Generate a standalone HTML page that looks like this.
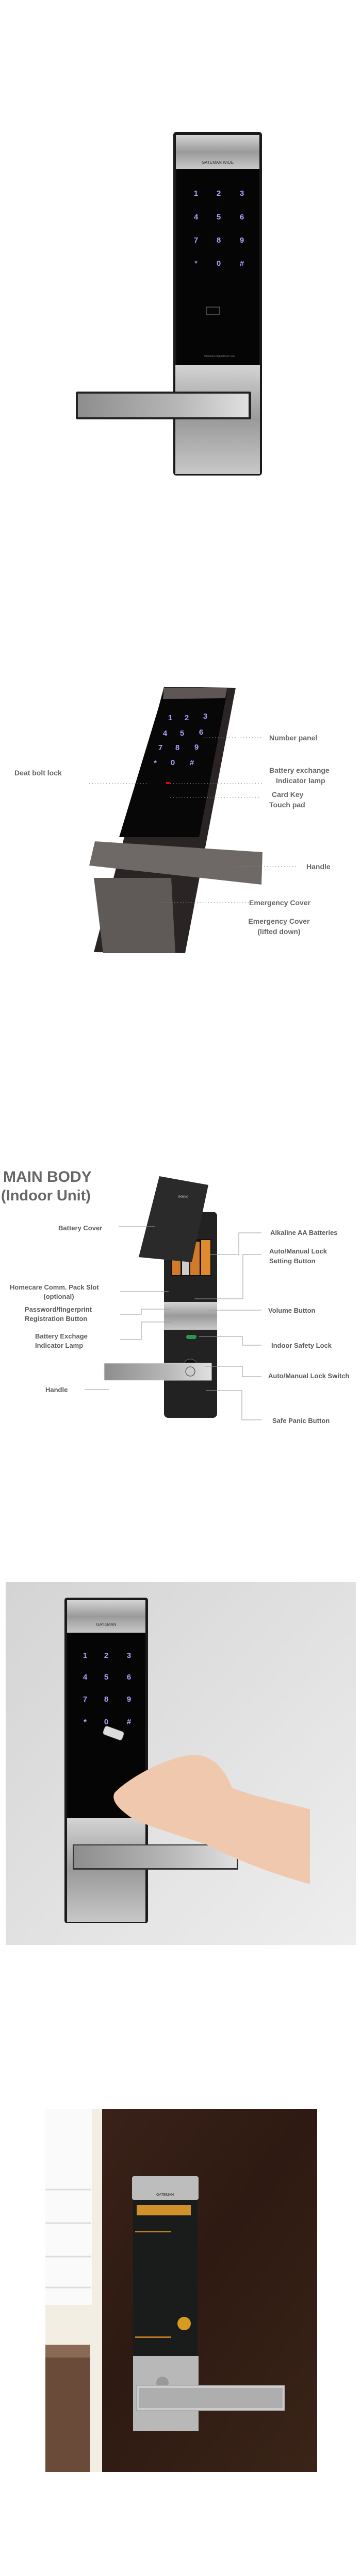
<!DOCTYPE html>
<html><head><meta charset="utf-8"><style>
html,body{margin:0;padding:0;background:#fff;width:700px;height:5029px;overflow:hidden;}
svg{display:block;}
text{font-family:"Liberation Sans","Noto Sans CJK KR",sans-serif;}
.l{font-size:14px;font-weight:bold;fill:#666;}
.m{font-size:13px;font-weight:bold;fill:#5a5a5a;}
.k{font-size:15px;font-weight:bold;fill:#a9a6ff;}
</style></head><body>
<svg width="700" height="5029" viewBox="0 0 700 5029" xmlns="http://www.w3.org/2000/svg">
<defs>
<linearGradient id="sil" x1="0" y1="0" x2="0" y2="1"><stop offset="0" stop-color="#d4d4d4"/><stop offset="0.5" stop-color="#9a9a9a"/><stop offset="1" stop-color="#c8c8c8"/></linearGradient>
<linearGradient id="silh" x1="0" y1="0" x2="1" y2="0"><stop offset="0" stop-color="#8d8d8d"/><stop offset="0.6" stop-color="#b8b8b8"/><stop offset="1" stop-color="#e0e0e0"/></linearGradient>
<linearGradient id="gbg" x1="0" y1="0" x2="1" y2="1"><stop offset="0" stop-color="#d4d4d4"/><stop offset="1" stop-color="#eeeeee"/></linearGradient>
<linearGradient id="door" x1="0" y1="0" x2="1" y2="1"><stop offset="0" stop-color="#3c241a"/><stop offset="0.5" stop-color="#2e1a12"/><stop offset="1" stop-color="#3a2418"/></linearGradient>
</defs>

<!-- Section 1 -->
<rect x="336" y="256" width="172" height="667" rx="6" fill="#1a1a1a"/>
<rect x="341" y="262" width="162" height="66" fill="url(#sil)"/>
<text x="422" y="318" font-size="8" text-anchor="middle" fill="#333">GATEMAN WIDE</text>
<rect x="342" y="328" width="161" height="380" fill="#050505"/>
<g class="k" text-anchor="middle">
<text x="380" y="380">1</text><text x="424" y="380">2</text><text x="469" y="380">3</text>
<text x="380" y="426">4</text><text x="424" y="426">5</text><text x="469" y="426">6</text>
<text x="380" y="471">7</text><text x="424" y="471">8</text><text x="469" y="471">9</text>
<text x="380" y="516">*</text><text x="424" y="516">0</text><text x="469" y="516">#</text>
</g>
<rect x="400" y="596" width="26" height="14" fill="none" stroke="#888" stroke-width="1"/>
<text x="426" y="693" font-size="5" text-anchor="middle" fill="#888">Premium Digital Door Lock</text>
<rect x="340" y="708" width="164" height="212" fill="url(#sil)"/>
<rect x="147" y="760" width="340" height="54" rx="3" fill="#222"/>
<rect x="151" y="764" width="331" height="46" fill="url(#silh)"/>

<!-- Section 2 -->
<polygon points="318,1333 457,1335 359,1850 182,1848" fill="#2a2424"/>
<polygon points="316,1345 440,1345 386,1625 231,1625" fill="#070707"/>
<polygon points="318,1335 440,1335 437,1355 316,1357" fill="#5d5655"/>
<g class="k" font-size="13" text-anchor="middle">
<text x="330" y="1398">1</text><text x="362" y="1398">2</text><text x="398" y="1395">3</text>
<text x="320" y="1428">4</text><text x="353" y="1428">5</text><text x="390" y="1426">6</text>
<text x="311" y="1456">7</text><text x="344" y="1456">8</text><text x="381" y="1455">9</text>
<text x="301" y="1486">*</text><text x="335" y="1485">0</text><text x="372" y="1485">#</text>
</g>
<rect x="322" y="1518" width="7" height="4" fill="#d01010"/>
<polygon points="173,1680 507,1717 509,1654 184,1633" fill="#6e6866"/>
<polygon points="182,1704 332,1704 340,1850 200,1850" fill="#5f5958"/>
<g stroke="#888" stroke-width="1.2" stroke-dasharray="1.5,4" fill="none">
<line x1="395" y1="1432" x2="509" y2="1432"/>
<line x1="173" y1="1521" x2="287" y2="1521"/>
<line x1="330" y1="1521" x2="509" y2="1521"/>
<line x1="330" y1="1548" x2="506" y2="1548"/>
<line x1="457" y1="1682" x2="578" y2="1682"/>
<line x1="316" y1="1752" x2="483" y2="1752"/>
</g>
<g class="l">
<text x="522" y="1437">Number panel</text>
<text x="28" y="1505">Deat bolt lock</text>
<text x="522" y="1500">Battery exchange</text>
<text x="535" y="1520">Indicator lamp</text>
<text x="527" y="1547">Card Key</text>
<text x="522" y="1567">Touch pad</text>
<text x="594" y="1687">Handle</text>
<text x="483" y="1757">Emergency Cover</text>
<text x="541" y="1793" text-anchor="middle">Emergency Cover</text>
<text x="541" y="1813" text-anchor="middle">(lifted down)</text>
</g>

<!-- Section 3 -->
<text x="6" y="2294" font-size="30" font-weight="bold" fill="#666">MAIN BODY</text>
<text x="2" y="2330" font-size="29" font-weight="bold" fill="#666">(Indoor Unit)</text>
<rect x="318" y="2352" width="103" height="400" rx="8" fill="#222"/>
<rect x="332" y="2405" width="78" height="72" fill="#111"/>
<rect x="334" y="2420" width="16" height="55" fill="#d07a2a"/>
<rect x="353" y="2430" width="14" height="45" fill="#ccc"/>
<rect x="369" y="2410" width="18" height="65" fill="#d07a2a"/>
<rect x="390" y="2407" width="18" height="68" fill="#e08a30"/>
<polygon points="269,2440 309,2283 404,2300 372,2450" fill="#2a2a2a"/>
<text x="345" y="2325" font-size="8" fill="#aaa">iRevo</text>
<rect x="318" y="2527" width="103" height="54" fill="url(#sil)"/>
<rect x="361" y="2591" width="20" height="8" rx="4" fill="#2a9a4a"/>
<circle cx="369" cy="2652" r="14" fill="#111" stroke="#666"/>
<rect x="202" y="2646" width="208" height="33" fill="url(#silh)" stroke="#ddd"/>
<circle cx="369" cy="2662" r="9" fill="#ccc" stroke="#333"/>
<g stroke="#999" stroke-width="1" fill="none">
<line x1="230" y1="2381" x2="300" y2="2381"/>
<line x1="232" y1="2507" x2="327" y2="2507"/>
<polyline points="232,2551 274,2551 274,2541 332,2541"/>
<polyline points="232,2600 274,2600 274,2566 332,2566"/>
<line x1="164" y1="2697" x2="211" y2="2697"/>
<polyline points="406,2435 463,2435 463,2393 507,2393"/>
<polyline points="377,2521 471,2521 471,2435 507,2435"/>
<line x1="404" y1="2543" x2="507" y2="2543"/>
<polyline points="386,2594 470,2594 470,2611 507,2611"/>
<polyline points="398,2652 470,2652 470,2672 507,2672"/>
<polyline points="399,2699 469,2699 469,2756 507,2756"/>
</g>
<g class="m">
<text x="113" y="2388">Battery Cover</text>
<text x="19" y="2503">Homecare Comm. Pack Slot</text>
<text x="114" y="2521" text-anchor="middle">(optional)</text>
<text x="48" y="2546">Password/fingerprint</text>
<text x="48" y="2564">Registration Button</text>
<text x="68" y="2598">Battery Exchage</text>
<text x="68" y="2616">Indicator Lamp</text>
<text x="88" y="2702">Handle</text>
<text x="524" y="2397">Alkaline AA Batteries</text>
<text x="522" y="2433">Auto/Manual Lock</text>
<text x="522" y="2452">Setting Button</text>
<text x="520" y="2548">Volume Button</text>
<text x="526" y="2616">Indoor Safety Lock</text>
<text x="520" y="2675">Auto/Manual Lock Switch</text>
<text x="528" y="2762">Safe Panic Button</text>
</g>

<!-- Section 4 -->
<rect x="11" y="3071" width="679" height="704" fill="url(#gbg)"/>
<rect x="125" y="3101" width="162" height="632" rx="5" fill="#1a1a1a"/>
<rect x="130" y="3106" width="152" height="63" fill="url(#sil)"/>
<text x="206" y="3156" font-size="8" text-anchor="middle" fill="#333">GATEMAN</text>
<rect x="130" y="3169" width="152" height="360" fill="#050505"/>
<g class="k" font-size="14" text-anchor="middle">
<text x="165" y="3218">1</text><text x="206" y="3218">2</text><text x="250" y="3218">3</text>
<text x="165" y="3260">4</text><text x="206" y="3260">5</text><text x="250" y="3260">6</text>
<text x="165" y="3303">7</text><text x="206" y="3303">8</text><text x="250" y="3303">9</text>
<text x="165" y="3347">*</text><text x="206" y="3347">0</text><text x="250" y="3347">#</text>
</g>
<rect x="130" y="3529" width="152" height="202" fill="url(#sil)"/>
<rect x="141" y="3580" width="321" height="49" fill="#333"/>
<rect x="143" y="3582" width="316" height="44" fill="url(#silh)"/>
<path d="M222,3480 C240,3460 300,3420 360,3408 C400,3400 430,3420 450,3470 C500,3490 560,3500 601,3512 L601,3657 C540,3640 480,3620 400,3580 C340,3560 270,3540 250,3525 C230,3510 215,3495 222,3480 Z" fill="#f0c8ae"/>
<rect x="200" y="3355" width="40" height="18" rx="5" fill="#ddd" stroke="#333" transform="rotate(20 220 3364)"/>

<!-- Section 5 -->
<rect x="88" y="4094" width="527" height="704" fill="url(#door)"/>
<rect x="88" y="4094" width="110" height="704" fill="#f3eee4"/>
<rect x="88" y="4094" width="90" height="380" fill="#fafafa"/>
<g stroke="#ddd" stroke-width="3"><line x1="88" y1="4250" x2="176" y2="4250"/><line x1="88" y1="4315" x2="176" y2="4315"/><line x1="88" y1="4380" x2="176" y2="4380"/><line x1="88" y1="4440" x2="176" y2="4440"/></g>
<rect x="88" y="4551" width="87" height="247" fill="#6a4a38"/>
<rect x="88" y="4551" width="87" height="25" fill="#8a6a55"/>
<rect x="256" y="4224" width="129" height="46" rx="4" fill="#bdbdbd"/>
<text x="320" y="4262" font-size="7" text-anchor="middle" fill="#333">GATEMAN</text>
<rect x="258" y="4270" width="125" height="303" fill="#1a1c1c"/>
<rect x="265" y="4280" width="105" height="20" fill="#d0902a"/>
<rect x="262" y="4330" width="70" height="3" fill="#c07a20"/>
<rect x="262" y="4535" width="70" height="3" fill="#c07a20"/>
<circle cx="357" cy="4510" r="13" fill="#d89a20"/>
<rect x="258" y="4573" width="127" height="146" fill="#b8b8b8"/>
<circle cx="315" cy="4625" r="12" fill="#999"/>
<rect x="265" y="4630" width="287" height="49" fill="#ccc" stroke="#999"/>
<rect x="269" y="4635" width="279" height="39" fill="#aeaeae"/>
</svg>
</body></html>
